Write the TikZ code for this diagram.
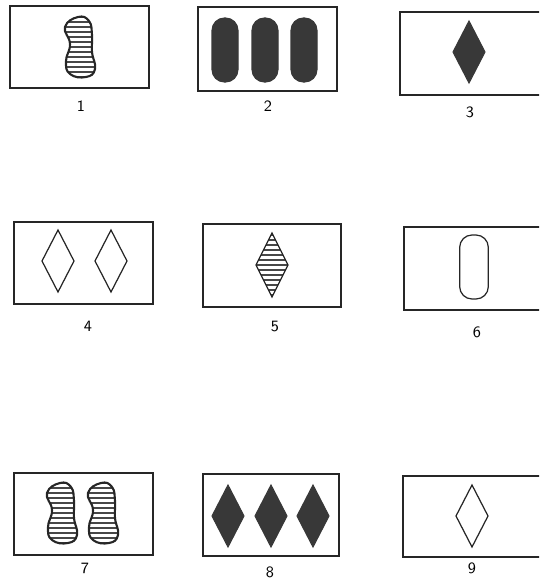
\documentclass[tikz,border=0pt]{standalone}
\usepackage{tikz}

\tikzset{
  card/.style={line width=1pt, black!85},
  lbl/.style={font=\sffamily\small, inner sep=0pt},
  ink/.style={fill=black!78, draw=black!78, line width=0.6pt},
  outl/.style={draw=black!85, line width=0.7pt},
  pics/diam/.style={code={
    \path[pic actions] (0,-31) -- (16,0) -- (0,31) -- (-16,0) -- cycle;}},
  pics/pill/.style={code={
    \path[pic actions, rounded corners=7pt] (-13,-32) rectangle (13,32);}},
  pics/hdiam/.style={code={
    \begin{scope}
      \clip (0,-32) -- (16,0) -- (0,32) -- (-16,0) -- cycle;
      \foreach \k in {-30,-25,...,30}
        \draw[line width=1.4pt, black!72] (-18,\k) -- (18,\k);
    \end{scope}
    \draw[outl] (0,-32) -- (16,0) -- (0,32) -- (-16,0) -- cycle;}},
  pics/squig/.style={code={
    \begin{scope}
      \clip plot[smooth cycle, tension=0.8] coordinates
        {(-2,-30) (9,-26) (12,-12) (12,5) (15,22) (6,30) (-10,27) (-14,14) (-10,-3) (-15,-20)};
      \foreach \k in {-30,-25,...,30}
        \draw[line width=1.4pt, black!72] (-18,\k) -- (18,\k);
    \end{scope}
    \draw[line width=1.2pt, black!85] plot[smooth cycle, tension=0.8] coordinates
      {(-2,-30) (9,-26) (12,-12) (12,5) (15,22) (6,30) (-10,27) (-14,14) (-10,-3) (-15,-20)};}}
}

\begin{document}
\begin{tikzpicture}[x=0.02cm, y=-0.02cm]
  \useasboundingbox (0,0) rectangle (539,578);
  \clip (0,0) rectangle (539,578);

  % top row
  \draw[card] (10,6) rectangle (149,88);
  \pic at (80,47) {squig};
  \node[lbl] (lab1) at (81,106) {1};

  \draw[card] (198,7) rectangle (337,91);
  \pic[ink] at (225,50) {pill};
  \pic[ink] at (265,50) {pill};
  \pic[ink] at (304,50) {pill};
  \node[lbl] (lab2) at (268,106) {2};

  \draw[card] (400,12) rectangle (543,95);
  \pic[ink] at (469,52) {diam};
  \node[lbl] (lab3) at (470,112) {3};

  % middle row
  \draw[card] (14,222) rectangle (153,304);
  \pic[outl] at (58,261) {diam};
  \pic[outl] at (111,261) {diam};
  \node[lbl] (lab4) at (88,326) {4};

  \draw[card] (203,224) rectangle (341,307);
  \pic at (272,265) {hdiam};
  \node[lbl] (lab5) at (275,326) {5};

  \draw[card] (404,227) rectangle (543,310);
  \pic[outl, xscale=1.1] at (474,267) {pill};
  \node[lbl] (lab6) at (477,332) {6};

  % bottom row
  \draw[card] (14,473) rectangle (153,555);
  \pic at (62,513) {squig};
  \pic at (103,513) {squig};
  \node[lbl] (lab7) at (85,568) {7};

  \draw[card] (203,474) rectangle (339,556);
  \pic[ink] at (228,516) {diam};
  \pic[ink] at (271,516) {diam};
  \pic[ink] at (313,516) {diam};
  \node[lbl] (lab8) at (270,572) {8};

  \draw[card] (403,476) rectangle (543,557);
  \pic[outl] at (472,516) {diam};
  \node[lbl] (lab9) at (472,568) {9};
\end{tikzpicture}
\end{document}
